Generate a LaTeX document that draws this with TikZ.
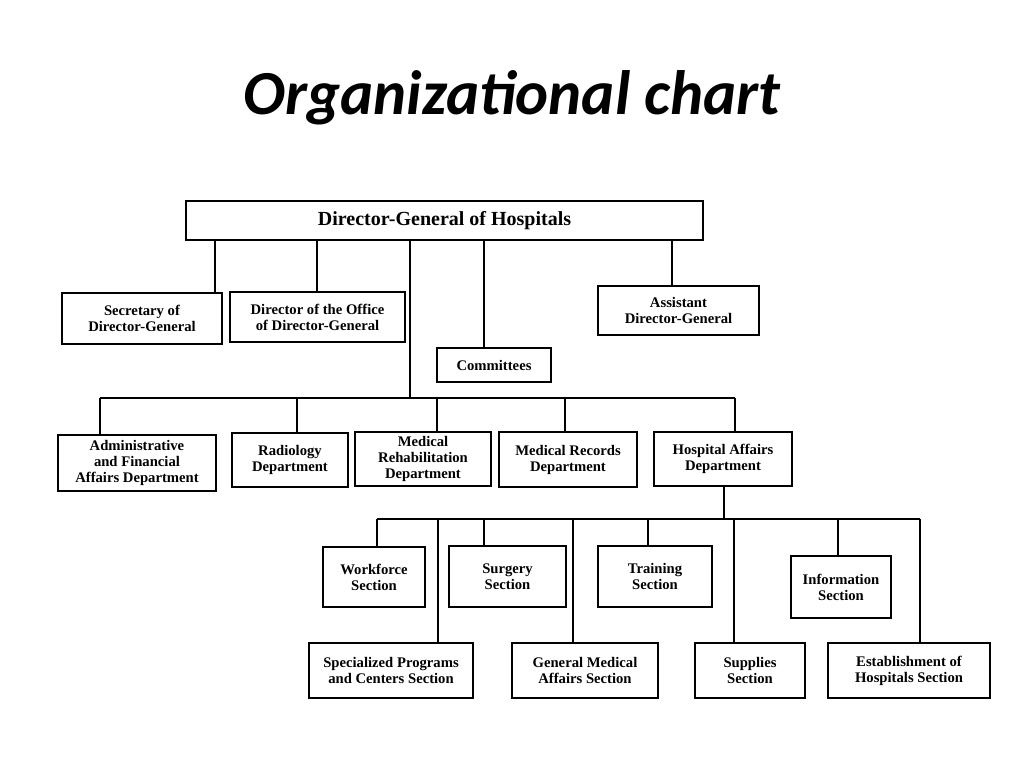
\documentclass[tikz,border=0pt]{standalone}
\usepackage{fontspec}
\setmainfont{Liberation Serif}
\newfontfamily\titlefont{Carlito}
\begin{document}
\begin{tikzpicture}[x=0.75pt,y=-0.75pt,
  box/.style={draw,line width=0.9pt,inner sep=0pt,font=\bfseries\fontsize{11}{12}\selectfont,align=center},
  ln/.style={line width=0.9pt}]
\useasboundingbox (0,0) rectangle (1024,768);
\node[font=\titlefont\bfseries\itshape\fontsize{47}{52}\selectfont] (title) at (512,98) {Organizational chart};
\newcommand\bx[6]{\node[box,minimum width={(#4-#2)*0.75pt},minimum height={(#5-#3)*0.75pt}] (#1) at ({(#2+#4)/2},{(#3+#5)/2}) {#6};}
\bx{dg}{186}{201}{703}{240}{\fontsize{15}{17}\selectfont Director-General of Hospitals}
\bx{sec}{62}{293}{222}{344}{Secretary of\\Director-General}
\bx{dir}{230}{292}{405}{342}{Director of the Office\\of Director-General}
\bx{com}{437}{348}{551}{382}{Committees}
\bx{ass}{598}{286}{759}{335}{Assistant\\Director-General}
\bx{adm}{58}{435}{216}{491}{Administrative\\and Financial\\Affairs Department}
\bx{rad}{232}{433}{348}{487}{Radiology\\Department}
\bx{reh}{355}{432}{491}{486}{Medical\\Rehabilitation\\Department}
\bx{rec}{499}{432}{637}{487}{Medical Records\\Department}
\bx{hos}{654}{432}{792}{486}{Hospital Affairs\\Department}
\bx{wor}{323}{547}{425}{607}{Workforce\\Section}
\bx{sur}{449}{546}{566}{607}{Surgery\\Section}
\bx{tra}{598}{546}{712}{607}{Training\\Section}
\bx{inf}{791}{556}{891}{618}{Information\\Section}
\bx{spe}{309}{643}{473}{698}{Specialized Programs\\and Centers Section}
\bx{gen}{512}{643}{658}{698}{General Medical\\Affairs Section}
\bx{sup}{695}{643}{805}{698}{Supplies\\Section}
\bx{est}{828}{643}{990}{698}{Establishment of\\Hospitals Section}
\coordinate (busA) at (410,398);
\coordinate (busB) at (724,519);
% top level
\draw[ln] (215,0 |- dg.south) -- (215,0 |- sec.north);
\draw[ln] (317,0 |- dg.south) -- (317,0 |- dir.north);
\draw[ln] (484,0 |- dg.south) -- (484,0 |- com.north);
\draw[ln] (672,0 |- dg.south) -- (672,0 |- ass.north);
\draw[ln] (busA |- dg.south) -- (busA);
\draw[ln] (100,0 |- busA) -- (735,0 |- busA);
\foreach \x/\n in {100/adm,297/rad,437/reh,565/rec,735/hos}
  \draw[ln] (\x,0 |- busA) -- (\x,0 |- \n.north);
% hospital affairs
\draw[ln] (busB |- hos.south) -- (busB);
\draw[ln] (377,0 |- busB) -- (920,0 |- busB);
\foreach \x/\n in {377/wor,438/spe,484/sur,573/gen,648/tra,734/sup,838/inf,920/est}
  \draw[ln] (\x,0 |- busB) -- (\x,0 |- \n.north);
\end{tikzpicture}
\end{document}
